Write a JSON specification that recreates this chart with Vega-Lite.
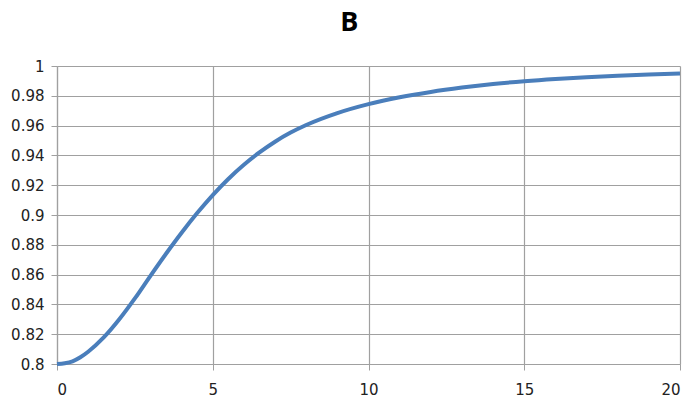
{
  "$schema": "https://vega.github.io/schema/vega-lite/v6.json",
  "autosize": {"type": "none"},
  "width": 623,
  "height": 298,
  "padding": {"left": 57, "top": 66, "right": 20, "bottom": 44},
  "background": "white",
  "title": {
    "text": "B",
    "font": "Open Sans",
    "fontSize": 27,
    "fontWeight": "bold",
    "color": "#000000",
    "anchor": "middle",
    "frame": "bounds",
    "offset": 22
  },
  "data": {
    "values": [
      {"x": 0, "y": 0.8},
      {"x": 0.25, "y": 0.8005},
      {"x": 0.5, "y": 0.8018},
      {"x": 0.75, "y": 0.8045},
      {"x": 1, "y": 0.8082},
      {"x": 1.5, "y": 0.8178},
      {"x": 2, "y": 0.83},
      {"x": 2.5, "y": 0.844},
      {"x": 3, "y": 0.8592},
      {"x": 3.5, "y": 0.874},
      {"x": 4, "y": 0.8881},
      {"x": 4.5, "y": 0.9013},
      {"x": 5, "y": 0.9134},
      {"x": 5.5, "y": 0.9242},
      {"x": 6, "y": 0.9337},
      {"x": 6.5, "y": 0.942},
      {"x": 7, "y": 0.9492},
      {"x": 7.5, "y": 0.9553},
      {"x": 8, "y": 0.9604},
      {"x": 9, "y": 0.9684},
      {"x": 10, "y": 0.9744},
      {"x": 11, "y": 0.979},
      {"x": 12, "y": 0.9826},
      {"x": 13, "y": 0.9855},
      {"x": 14, "y": 0.9879},
      {"x": 15, "y": 0.9898},
      {"x": 16, "y": 0.9913},
      {"x": 17, "y": 0.9925},
      {"x": 18, "y": 0.9935},
      {"x": 19, "y": 0.9943},
      {"x": 20, "y": 0.995}
    ]
  },
  "mark": {"type": "line", "color": "#4a7ebb", "strokeWidth": 4, "interpolate": "monotone"},
  "encoding": {
    "x": {
      "field": "x",
      "type": "quantitative",
      "scale": {"domain": [0, 20], "nice": false, "zero": false},
      "axis": {
        "title": null,
        "values": [0, 5, 10, 15, 20],
        "grid": true,
        "gridColor": "#a0a0a0",
        "gridWidth": 1.2,
        "domainColor": "#a0a0a0",
        "domainWidth": 1.2,
        "tickColor": "#a0a0a0",
        "tickSize": 6,
        "labelFont": "DejaVu Sans",
        "labelFontSize": 15,
        "labelColor": "#222222",
        "labelPadding": 12
      }
    },
    "y": {
      "field": "y",
      "type": "quantitative",
      "scale": {"domain": [0.8, 1], "nice": false, "zero": false},
      "axis": {
        "title": null,
        "values": [0.8, 0.82, 0.84, 0.86, 0.88, 0.9, 0.92, 0.94, 0.96, 0.98, 1],
        "grid": true,
        "gridColor": "#a0a0a0",
        "gridWidth": 1.2,
        "domainColor": "#a0a0a0",
        "domainWidth": 1.2,
        "tickColor": "#a0a0a0",
        "tickSize": 6,
        "labelFont": "DejaVu Sans",
        "labelFontSize": 15,
        "labelColor": "#222222",
        "labelPadding": 7,
        "format": "~g"
      }
    }
  },
  "config": {"view": {"stroke": null}}
}
